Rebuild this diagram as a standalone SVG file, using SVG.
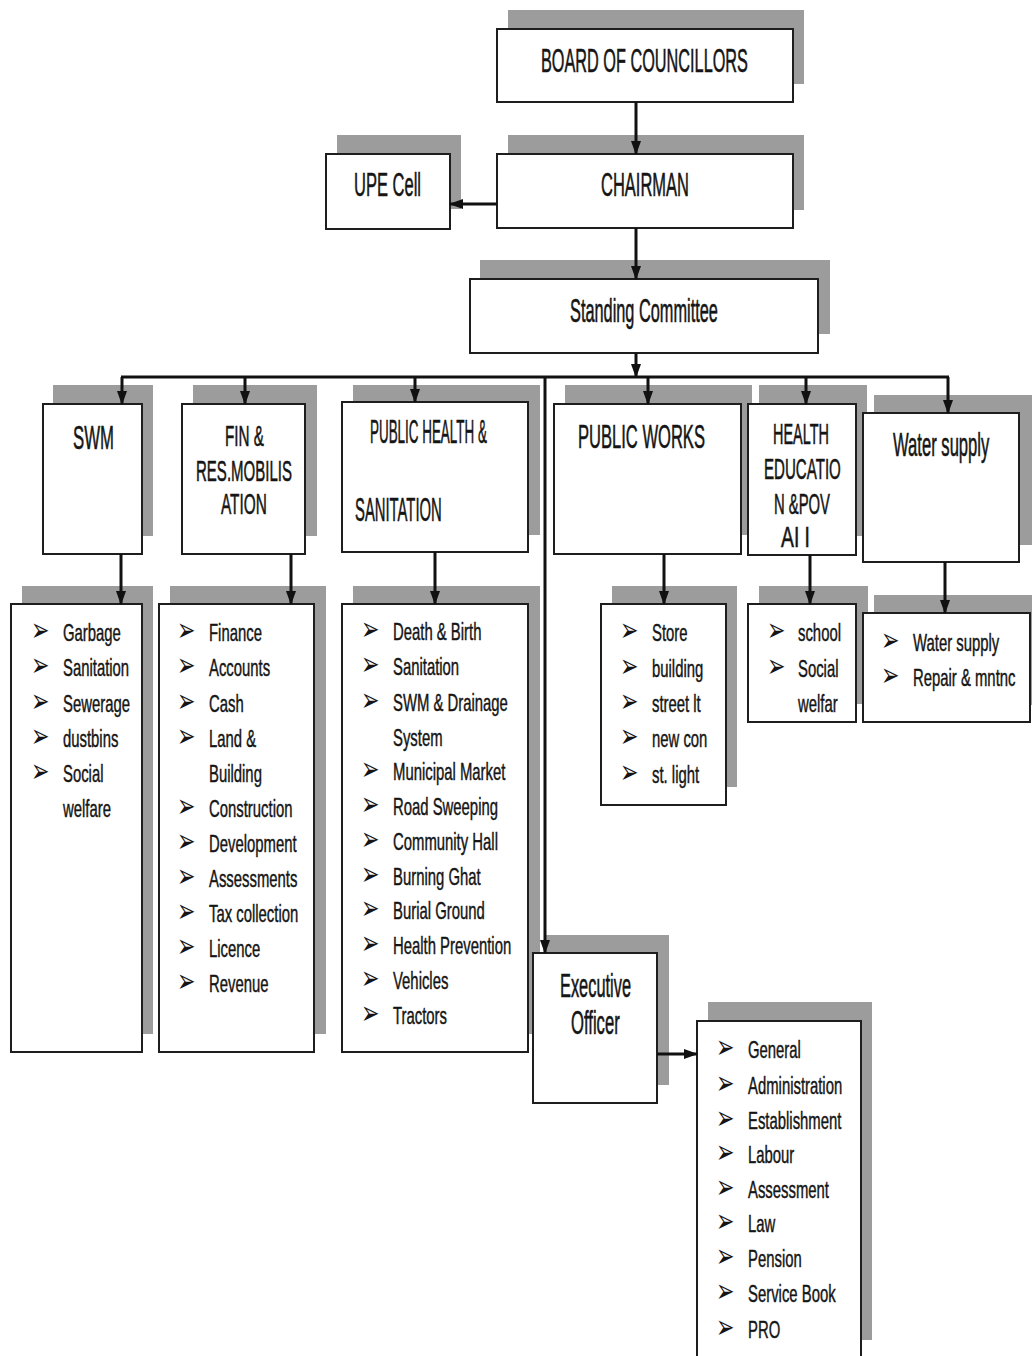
<svg xmlns="http://www.w3.org/2000/svg" width="1032" height="1356" viewBox="0 0 1032 1356">
<defs>
<style>
.sh{fill:#9c9c9c;stroke:none}
.bx{fill:#fff;stroke:#1e1e1e;stroke-width:2}
.h{font-family:"Liberation Sans",Arial,sans-serif;font-size:34px;fill:#151515;stroke:#151515;stroke-width:0.6}
.h2{font-family:"Liberation Sans",Arial,sans-serif;font-size:30px;fill:#151515;stroke:#151515;stroke-width:0.6}
.li{font-family:"Liberation Sans",Arial,sans-serif;font-size:24px;fill:#151515;stroke:#151515;stroke-width:0.45}
.bu{font-family:"DejaVu Sans",sans-serif;font-size:22px;fill:#151515}
.cn{stroke:#111;stroke-width:3;fill:none}
.ca{stroke:#111;stroke-width:3;fill:none;marker-end:url(#ah)}
</style>
<marker id="ah" viewBox="0 0 14 10" markerWidth="14" markerHeight="10" refX="13" refY="5" orient="auto" markerUnits="userSpaceOnUse">
<path d="M0,0 L14,5 L0,10 z" fill="#111"/>
</marker>
<text id="b" class="bu" transform="scale(1,1.5)">➢</text>
</defs>
<rect width="1032" height="1356" fill="#fff"/>

<g id="board">
<rect class="sh" x="508" y="10" width="296" height="74"/>
<rect class="bx" x="497" y="29" width="296" height="73"/>
<text class="h" transform="translate(541,72) scale(0.4785,1)">BOARD OF COUNCILLORS</text>
</g>
<g id="upe">
<rect class="sh" x="337" y="135" width="124" height="74"/>
<rect class="bx" x="326" y="154" width="124" height="75"/>
<text class="h" transform="translate(354,196) scale(0.486,1)">UPE Cell</text>
</g>
<g id="chairman">
<rect class="sh" x="508" y="135" width="296" height="75"/>
<rect class="bx" x="497" y="154" width="296" height="74"/>
<text class="h" transform="translate(601,196) scale(0.485,1)">CHAIRMAN</text>
</g>
<g id="standing">
<rect class="sh" x="480" y="260" width="350" height="74"/>
<rect class="bx" x="470" y="279" width="348" height="74"/>
<text class="h" transform="translate(570,322) scale(0.4805,1)">Standing Committee</text>
</g>

<g id="swm">
<rect class="sh" x="53" y="385" width="100" height="151"/>
<rect class="bx" x="43" y="404" width="99" height="150"/>
<text class="h" transform="translate(73,449) scale(0.493,1)">SWM</text>
</g>
<g id="fin">
<rect class="sh" x="193" y="385" width="124" height="151"/>
<rect class="bx" x="182" y="404" width="123" height="150"/>
<text class="h2" transform="translate(225,446) scale(0.5086,1)">FIN &amp;</text>
<text class="h2" transform="translate(196,481) scale(0.5007,1)">RES.MOBILIS</text>
<text class="h2" transform="translate(221,514) scale(0.5127,1)">ATION</text>
</g>
<g id="publichealth">
<rect class="sh" x="353" y="385" width="187" height="150"/>
<rect class="bx" x="342" y="402" width="186" height="150"/>
<text class="h" transform="translate(370,443) scale(0.395,1)">PUBLIC HEALTH &amp;</text>
<text class="h" transform="translate(355,521) scale(0.436,1)">SANITATION</text>
</g>
<g id="publicworks">
<rect class="sh" x="565" y="385" width="187" height="150"/>
<rect class="bx" x="554" y="404" width="187" height="150"/>
<text class="h" transform="translate(578,448) scale(0.487,1)">PUBLIC WORKS</text>
</g>
<g id="healthedu">
<rect class="sh" x="759" y="385" width="108" height="151"/>
<rect class="bx" x="748" y="404" width="108" height="151"/>
<text class="h2" transform="translate(773,444) scale(0.4816,1)">HEALTH</text>
<text class="h2" transform="translate(764,479) scale(0.5032,1)">EDUCATIO</text>
<text class="h2" transform="translate(774,514) scale(0.494,1)">N &amp;POV</text>
<text class="h2" transform="translate(781,547) scale(0.644,1)">AI I</text>
</g>
<g id="watersupply">
<rect class="sh" x="874" y="395" width="158" height="150"/>
<rect class="bx" x="863" y="413" width="156" height="149"/>
<text class="h" transform="translate(893,456) scale(0.489,1)">Water supply</text>
</g>

<g id="swm-list">
<rect class="sh" x="22" y="586" width="131" height="448"/>
<rect class="bx" x="11" y="604" width="131" height="448"/>
<use href="#b" x="31" y="641"/><use href="#b" x="31" y="676"/><use href="#b" x="31" y="712"/><use href="#b" x="31" y="747"/><use href="#b" x="31" y="782"/>
<text class="li" transform="translate(63,0) scale(0.62,1)"><tspan x="0" y="641">Garbage</tspan><tspan x="0" y="676">Sanitation</tspan><tspan x="0" y="712">Sewerage</tspan><tspan x="0" y="747">dustbins</tspan><tspan x="0" y="782">Social</tspan><tspan x="0" y="817">welfare</tspan></text>
</g>
<g id="fin-list">
<rect class="sh" x="170" y="586" width="156" height="448"/>
<rect class="bx" x="159" y="604" width="155" height="448"/>
<use href="#b" x="177" y="641"/><use href="#b" x="177" y="676"/><use href="#b" x="177" y="712"/><use href="#b" x="177" y="747"/><use href="#b" x="177" y="817"/><use href="#b" x="177" y="852"/><use href="#b" x="177" y="887"/><use href="#b" x="177" y="922"/><use href="#b" x="177" y="957"/><use href="#b" x="177" y="992"/>
<text class="li" transform="translate(209,0) scale(0.62,1)"><tspan x="0" y="641">Finance</tspan><tspan x="0" y="676">Accounts</tspan><tspan x="0" y="712">Cash</tspan><tspan x="0" y="747">Land &amp;</tspan><tspan x="0" y="782">Building</tspan><tspan x="0" y="817">Construction</tspan><tspan x="0" y="852">Development</tspan><tspan x="0" y="887">Assessments</tspan><tspan x="0" y="922">Tax collection</tspan><tspan x="0" y="957">Licence</tspan><tspan x="0" y="992">Revenue</tspan></text>
</g>
<g id="ph-list">
<rect class="sh" x="353" y="586" width="187" height="448"/>
<rect class="bx" x="342" y="604" width="186" height="448"/>
<use href="#b" x="361" y="640"/><use href="#b" x="361" y="675"/><use href="#b" x="361" y="711"/><use href="#b" x="361" y="780"/><use href="#b" x="361" y="815"/><use href="#b" x="361" y="850"/><use href="#b" x="361" y="885"/><use href="#b" x="361" y="919"/><use href="#b" x="361" y="954"/><use href="#b" x="361" y="989"/><use href="#b" x="361" y="1024"/>
<text class="li" transform="translate(393,0) scale(0.62,1)"><tspan x="0" y="640">Death &amp; Birth</tspan><tspan x="0" y="675">Sanitation</tspan><tspan x="0" y="711">SWM &amp; Drainage</tspan><tspan x="0" y="746">System</tspan><tspan x="0" y="780">Municipal Market</tspan><tspan x="0" y="815">Road Sweeping</tspan><tspan x="0" y="850">Community Hall</tspan><tspan x="0" y="885">Burning Ghat</tspan><tspan x="0" y="919">Burial Ground</tspan><tspan x="0" y="954">Health Prevention</tspan><tspan x="0" y="989">Vehicles</tspan><tspan x="0" y="1024">Tractors</tspan></text>
</g>
<g id="pw-list">
<rect class="sh" x="612" y="586" width="125" height="201"/>
<rect class="bx" x="601" y="604" width="125" height="201"/>
<use href="#b" x="620" y="641"/><use href="#b" x="620" y="677"/><use href="#b" x="620" y="712"/><use href="#b" x="620" y="747"/><use href="#b" x="620" y="783"/>
<text class="li" transform="translate(652,0) scale(0.62,1)"><tspan x="0" y="641">Store</tspan><tspan x="0" y="677">building</tspan><tspan x="0" y="712">street lt</tspan><tspan x="0" y="747">new con</tspan><tspan x="0" y="783">st. light</tspan></text>
</g>
<g id="he-list">
<rect class="sh" x="759" y="586" width="109" height="118"/>
<rect class="bx" x="748" y="604" width="108" height="118"/>
<use href="#b" x="767" y="641"/><use href="#b" x="767" y="677"/>
<text class="li" transform="translate(798,0) scale(0.62,1)"><tspan x="0" y="641">school</tspan><tspan x="0" y="677">Social</tspan><tspan x="0" y="712">welfar</tspan></text>
</g>
<g id="ws-list">
<rect class="sh" x="874" y="595" width="160" height="110"/>
<rect class="bx" x="863" y="613" width="167" height="109"/>
<use href="#b" x="881" y="651"/><use href="#b" x="881" y="686"/>
<text class="li" transform="translate(913,0) scale(0.62,1)"><tspan x="0" y="651">Water supply</tspan><tspan x="0" y="686">Repair &amp; mntnc</tspan></text>
</g>
<g id="executive">
<rect class="sh" x="545" y="935" width="124" height="150"/>
<rect class="bx" x="533" y="953" width="124" height="150"/>
<text class="h" transform="translate(560,997) scale(0.482,1)">Executive</text>
<text class="h" transform="translate(571,1034) scale(0.49,1)">Officer</text>
</g>
<g id="exec-list">
<rect class="sh" x="708" y="1002" width="164" height="338"/>
<rect class="bx" x="697" y="1021" width="164" height="340"/>
<use href="#b" x="716" y="1058"/><use href="#b" x="716" y="1094"/><use href="#b" x="716" y="1129"/><use href="#b" x="716" y="1163"/><use href="#b" x="716" y="1198"/><use href="#b" x="716" y="1232"/><use href="#b" x="716" y="1267"/><use href="#b" x="716" y="1302"/><use href="#b" x="716" y="1338"/>
<text class="li" transform="translate(748,0) scale(0.62,1)"><tspan x="0" y="1058">General</tspan><tspan x="0" y="1094">Administration</tspan><tspan x="0" y="1129">Establishment</tspan><tspan x="0" y="1163">Labour</tspan><tspan x="0" y="1198">Assessment</tspan><tspan x="0" y="1232">Law</tspan><tspan x="0" y="1267">Pension</tspan><tspan x="0" y="1302">Service Book</tspan><tspan x="0" y="1338">PRO</tspan></text>
</g>

<g id="connectors">
<line class="ca" x1="636" y1="102" x2="636" y2="154"/>
<line class="ca" x1="497" y1="204" x2="450" y2="204"/>
<line class="ca" x1="636" y1="228" x2="636" y2="279"/>
<line class="ca" x1="636" y1="353" x2="636" y2="377"/>
<line class="cn" x1="121" y1="377" x2="949" y2="377"/>
<line class="ca" x1="122" y1="377" x2="122" y2="404"/>
<line class="ca" x1="245" y1="377" x2="245" y2="404"/>
<line class="ca" x1="415" y1="377" x2="415" y2="402"/>
<line class="ca" x1="648" y1="377" x2="648" y2="404"/>
<line class="ca" x1="806" y1="377" x2="806" y2="404"/>
<line class="ca" x1="948" y1="377" x2="948" y2="413"/>
<line class="ca" x1="545" y1="377" x2="545" y2="953"/>
<line class="ca" x1="121" y1="554" x2="121" y2="604"/>
<line class="ca" x1="291" y1="554" x2="291" y2="604"/>
<line class="ca" x1="435" y1="552" x2="435" y2="604"/>
<line class="ca" x1="664" y1="554" x2="664" y2="604"/>
<line class="ca" x1="810" y1="555" x2="810" y2="604"/>
<line class="ca" x1="945" y1="562" x2="945" y2="613"/>
<line class="ca" x1="657" y1="1054" x2="697" y2="1054"/>
</g>
</svg>
